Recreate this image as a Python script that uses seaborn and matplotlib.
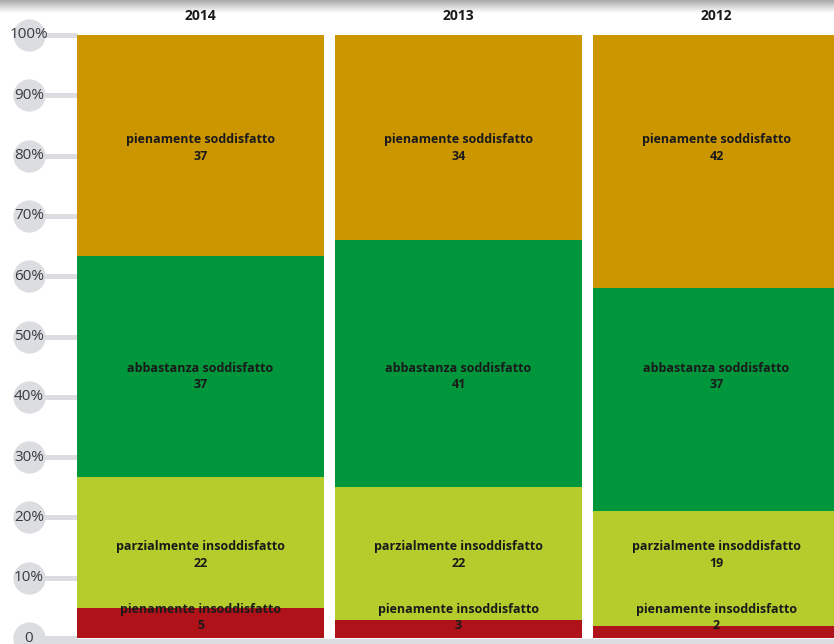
import numpy as np
import pandas as pd
import matplotlib
matplotlib.use("Agg")
import matplotlib.pyplot as plt
import seaborn as sns

# Survey results per year (absolute counts as shown in the labels)
years = ["2014", "2013", "2012"]
categories = [
    "pienamente insoddisfatto",
    "parzialmente insoddisfatto",
    "abbastanza soddisfatto",
    "pienamente soddisfatto",
]
v_pien_insodd = [5, 3, 2]
v_parz_insodd = [22, 22, 19]
v_abb_sodd = [37, 41, 37]
v_pien_sodd = [37, 34, 42]
series = [v_pien_insodd, v_parz_insodd, v_abb_sodd, v_pien_sodd]
colors = ["#B0121A", "#B4CC2C", "#00963C", "#CC9600"]
tick_values = [0, 10, 20, 30, 40, 50, 60, 70, 80, 90, 100]
tick_labels = ["0", "10%", "20%", "30%", "40%", "50%", "60%", "70%", "80%", "90%", "100%"]

sns.set_theme(style="white")
plt.rcParams["font.family"] = ["Open Sans", "DejaVu Sans"]

W, H = 834, 644
fig = plt.figure(figsize=(W / 100, H / 100), dpi=100)

# soft shadow along the top edge (drawn first, underneath everything)
sh = fig.add_axes([0, 1 - 13 / H, 1, 13 / H])
grad = np.linspace(0.55, 1.0, 64).reshape(-1, 1) ** 0.7
sh.imshow(np.repeat(grad, 2, axis=1), cmap="gray", vmin=0, vmax=1,
          aspect="auto", interpolation="bilinear")
sh.axis("off")

ax = fig.add_axes([0, 0, 1, 1])
ax.patch.set_alpha(0)

# pixel geometry of the plot
step_px = 258.0          # distance between bar centres
x0_px = 200.5            # centre of first bar
y0_px = 638.0            # baseline
unit_px = 6.03           # pixels per percent

def px_x(p):
    return (p - x0_px) / step_px

totals = np.sum(np.array(series, dtype=float), axis=0)
pct = [np.array(s, dtype=float) / totals * 100 for s in series]

bottom = np.zeros(len(years))
bar_w = 247.0 / step_px
for cat, p, c in zip(categories, pct, colors):
    df = pd.DataFrame({"anno": years, "pct": p})
    sns.barplot(data=df, x="anno", y="pct", order=years, bottom=bottom.copy(),
                color=c, saturation=1, width=bar_w, errorbar=None,
                linewidth=0, edgecolor="none", ax=ax, zorder=3)
    bottom = bottom + p

# segment labels: one height per category, from the mean of segment midpoints
bottom = np.zeros(len(years))
for cat, p, s in zip(categories, pct, series):
    mids = bottom + p / 2
    y_lab = max(mids.mean(), 3.4)
    for i, v in enumerate(s):
        ax.text(i, y_lab, f"{cat}\n{v}", ha="center", va="center", fontsize=9,
                fontweight="bold", color="#1a1a1a", linespacing=1.35, zorder=5)
    bottom = bottom + p

# y axis decorations: grey discs with labels and short grey leaders
disc_x = px_x(29)
bar_left = px_x(77)
for t in tick_values:
    ax.plot([disc_x, bar_left], [t, t], color="#dcdde0", lw=3.6,
            solid_capstyle="butt", zorder=1)
ax.scatter([disc_x] * len(tick_values), tick_values, s=540, color="#dcdde0",
           linewidths=0, zorder=2)
for t, lab in zip(tick_values, tick_labels):
    ax.text(disc_x, t, lab, ha="center", va="center", fontsize=11,
            color="#3a3a44", zorder=4)

# base line
ax.plot([px_x(38), px_x(W + 5)], [-0.7, -0.7], color="#dcdde0", lw=4.5,
        solid_capstyle="butt", zorder=1)

ax.set_xlim(px_x(0), px_x(W))
ax.set_ylim((y0_px - H) / unit_px, y0_px / unit_px)
ax.axis("off")

# year headers above each column
for i, y in enumerate(years):
    xf = (x0_px + i * step_px) / W
    fig.text(xf, 1 - 15.5 / H, y, ha="center", va="center",
             fontsize=10, fontweight="bold", color="#1a1a1a", zorder=10)

fig.savefig("out.png", dpi=100)
